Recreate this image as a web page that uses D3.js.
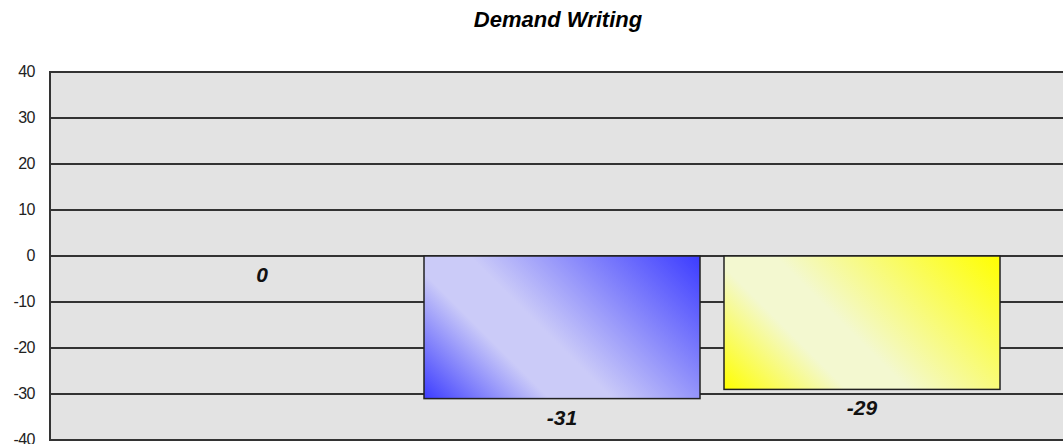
<!DOCTYPE html>
<html>
<head>
<meta charset="utf-8">
<script src="https://cdn.jsdelivr.net/npm/d3@7"></script>
<style>
  html, body { margin: 0; padding: 0; background: #fff; }
  svg { display: block; }
</style>
</head>
<body>
<svg id="chart" width="1063" height="444"></svg>
<script>
const title = "Demand Writing";
const categories = ["Category 1", "Category 2", "Category 3"];
const values = [0, -31, -29];
const yTicks = [40, 30, 20, 10, 0, -10, -20, -30, -40];
const barColors = [
  { edge: "#3c3cff", light: "#cbcbf8" },
  { edge: "#3c3cff", light: "#cbcbf8" },
  { edge: "#ffff00", light: "#f3f8d0" }
];

const svg = d3.select("#chart");
const plot = { left: 50, top: 72, right: 1070, bottom: 440 };

const y = d3.scaleLinear().domain([-40, 40]).range([plot.bottom, plot.top]);
const x = d3.scaleBand().domain(categories).range([112, 1012])
  .paddingInner(0.08).paddingOuter(0.04);

// Title
svg.append("text")
  .attr("x", 558).attr("y", 27)
  .attr("text-anchor", "middle")
  .style("font", "italic bold 22px Arial, 'Liberation Sans', sans-serif")
  .attr("fill", "#000")
  .text(title);

// Plot background
svg.append("rect")
  .attr("x", plot.left).attr("y", plot.top)
  .attr("width", plot.right - plot.left).attr("height", plot.bottom - plot.top)
  .attr("fill", "#e3e3e3");

// Gridlines
svg.append("g").selectAll("line").data(yTicks).join("line")
  .attr("x1", plot.left).attr("x2", plot.right)
  .attr("y1", d => y(d)).attr("y2", d => y(d))
  .attr("stroke", "#333").attr("stroke-width", 2);

// Left axis line
svg.append("line")
  .attr("x1", plot.left).attr("x2", plot.left)
  .attr("y1", plot.top - 1).attr("y2", plot.bottom + 1)
  .attr("stroke", "#333").attr("stroke-width", 2);

// Y axis labels
const yAxis = d3.axisLeft(y).tickValues(yTicks).tickSize(0).tickPadding(15)
  .tickFormat(d => String(d));
const ga = svg.append("g").attr("transform", `translate(${plot.left},-1)`).call(yAxis);
ga.select(".domain").remove();
ga.selectAll("text")
  .style("font", "16px Arial, 'Liberation Sans', sans-serif")
  .style("letter-spacing", "-0.5px")
  .attr("fill", "#222");

// Gradients
const defs = svg.append("defs");
values.forEach((v, i) => {
  const x0 = x(categories[i]);
  const w = x.bandwidth();
  const top = y(Math.max(0, v)), bot = y(Math.min(0, v));
  const h = bot - top;
  const L = (w + h) / 2;
  const g = defs.append("linearGradient")
    .attr("id", "grad" + i)
    .attr("gradientUnits", "userSpaceOnUse")
    .attr("x1", x0).attr("y1", bot)
    .attr("x2", x0 + L).attr("y2", bot - L);
  const c = barColors[i];
  g.append("stop").attr("offset", 0).attr("stop-color", c.edge);
  g.append("stop").attr("offset", 0.3).attr("stop-color", c.light);
  g.append("stop").attr("offset", 0.45).attr("stop-color", c.light);
  g.append("stop").attr("offset", 1).attr("stop-color", c.edge);
});

// Bars
svg.append("g").selectAll("rect").data(values).join("rect")
  .attr("x", (d, i) => x(categories[i]))
  .attr("width", x.bandwidth())
  .attr("y", d => y(Math.max(0, d)))
  .attr("height", d => Math.abs(y(d) - y(0)))
  .attr("fill", (d, i) => `url(#grad${i})`)
  .attr("stroke", (d) => d === 0 ? "none" : "#222")
  .attr("stroke-width", 1.5);

// Value labels
svg.append("g").selectAll("text").data(values).join("text")
  .attr("x", (d, i) => x(categories[i]) + x.bandwidth() / 2)
  .attr("y", d => y(Math.min(0, d)) + 26)
  .attr("text-anchor", "middle")
  .style("font", "italic bold 21px Arial, 'Liberation Sans', sans-serif")
  .attr("fill", "#111")
  .text(d => String(d));
</script>
</body>
</html>
